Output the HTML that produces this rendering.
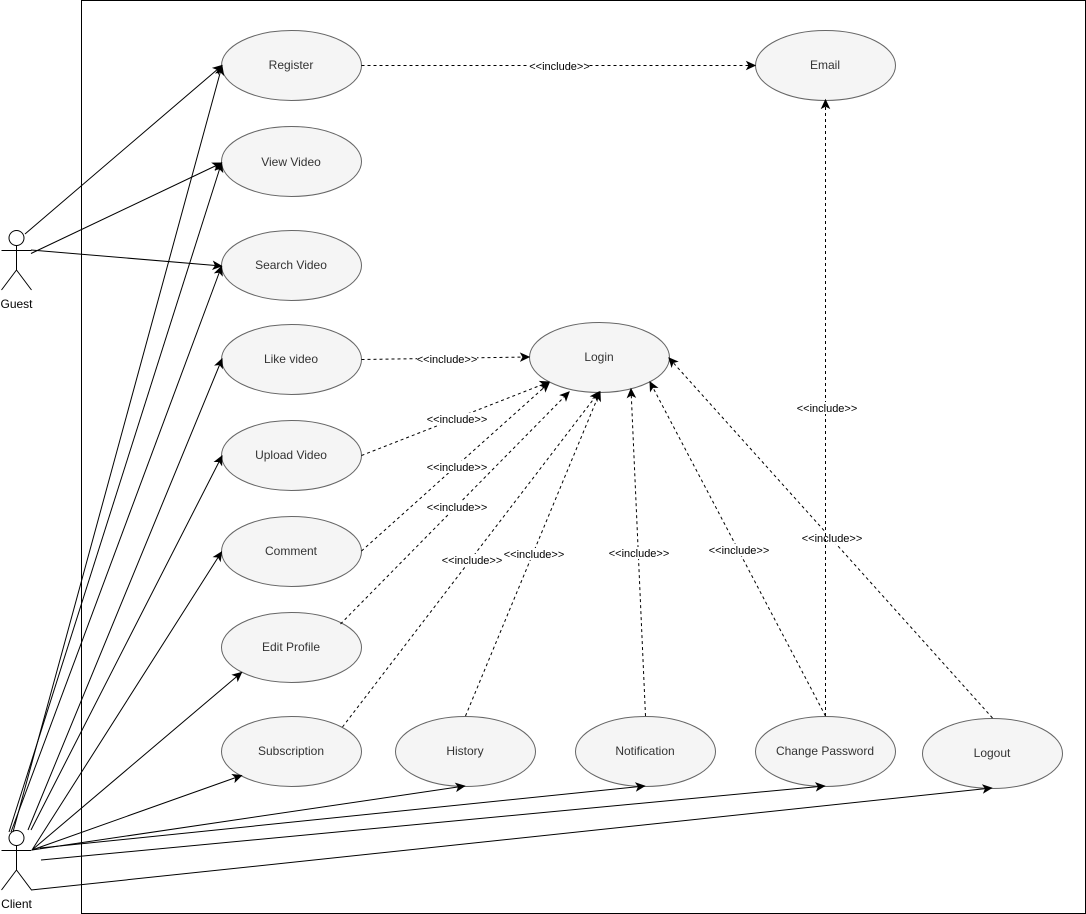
<!DOCTYPE html>
<html><head><meta charset="utf-8"><style>
html,body{margin:0;padding:0;background:#fff}
svg{display:block}
.u{fill:#f5f5f5;stroke:#666;stroke-width:1}
.t{font:12px "Liberation Sans",sans-serif;fill:#333;text-anchor:middle}
.a{font:12px "Liberation Sans",sans-serif;fill:#000;text-anchor:middle}
.l{font:11px "Liberation Sans",sans-serif;fill:#000;text-anchor:middle}
.s{stroke:#000;stroke-width:1;fill:none;marker-end:url(#m)}
.d{stroke:#000;stroke-width:1;fill:none;stroke-dasharray:3 3;marker-end:url(#m)}
.p{stroke:#000;stroke-width:1;fill:#fff}
.b{fill:#fff}
</style></head><body>
<svg width="1086" height="914" viewBox="0 0 1086 914" xmlns="http://www.w3.org/2000/svg">
<defs><marker id="m" markerUnits="userSpaceOnUse" markerWidth="12" markerHeight="12" viewBox="0 0 12 12" refX="10" refY="6" orient="auto"><path d="M10,6 L2,2.3 L4,6 L2,9.7 Z" fill="#000" stroke="#000" stroke-width="1"/></marker></defs>
<rect x="81.5" y="0.5" width="1004" height="913" fill="#fff" stroke="#000"/>

<ellipse class="u" cx="291.5" cy="65.5" rx="70" ry="35"/>
<ellipse class="u" cx="291.5" cy="161.5" rx="70" ry="35"/>
<ellipse class="u" cx="291.5" cy="265.5" rx="70" ry="35"/>
<ellipse class="u" cx="291.5" cy="359.5" rx="70" ry="35"/>
<ellipse class="u" cx="291.5" cy="455.5" rx="70" ry="35"/>
<ellipse class="u" cx="291.5" cy="551.5" rx="70" ry="35"/>
<ellipse class="u" cx="291.5" cy="647.5" rx="70" ry="35"/>
<ellipse class="u" cx="291.5" cy="751.5" rx="70" ry="35"/>
<ellipse class="u" cx="465.5" cy="751.5" rx="70" ry="35"/>
<ellipse class="u" cx="645.5" cy="751.5" rx="70" ry="35"/>
<ellipse class="u" cx="825.5" cy="751.5" rx="70" ry="35"/>
<ellipse class="u" cx="992.5" cy="753.5" rx="70" ry="35"/>
<ellipse class="u" cx="825.5" cy="65.5" rx="70" ry="35"/>
<ellipse class="u" cx="599.5" cy="357.5" rx="70" ry="35"/>

<text class="t" x="291" y="69">Register</text>
<text class="t" x="291" y="166">View Video</text>
<text class="t" x="291" y="269">Search Video</text>
<text class="t" x="291" y="363">Like video</text>
<text class="t" x="291" y="459">Upload Video</text>
<text class="t" x="291" y="555">Comment</text>
<text class="t" x="291" y="651">Edit Profile</text>
<text class="t" x="291" y="755">Subscription</text>
<text class="t" x="465" y="755">History</text>
<text class="t" x="645" y="755">Notification</text>
<text class="t" x="825" y="755">Change Password</text>
<text class="t" x="992" y="757">Logout</text>
<text class="t" x="825" y="69">Email</text>
<text class="t" x="599" y="361">Login</text>

<!-- Guest -->
<circle class="p" cx="16.5" cy="238" r="7.5"/>
<path d="M16.5 245.5V270M1.500 250.500H31.500M16.500 270L1.500 290M16.500 270L31.500 290" stroke="#000" fill="none"/>
<text class="a" x="16.5" y="308">Guest</text>
<!-- Client -->
<circle class="p" cx="16.5" cy="838" r="7.500"/>
<path d="M16.500 845.500V870M1.500 850.500H31.500M16.500 870L1.500 890M16.500 870L31.500 890" stroke="#000" fill="none"/>
<text class="a" x="16.5" y="908">Client</text>

<!-- Guest edges -->
<line class="s" x1="25" y1="234" x2="222" y2="65.500"/>
<line class="s" x1="31" y1="253.500" x2="221.500" y2="163"/>
<line class="s" x1="31" y1="250" x2="221.500" y2="266"/>
<!-- Client edges -->
<line class="s" x1="13" y1="832" x2="222" y2="66"/>
<line class="s" x1="9" y1="832" x2="221.500" y2="163"/>
<line class="s" x1="11" y1="832" x2="221.500" y2="266.500"/>
<line class="s" x1="28" y1="830" x2="222" y2="359"/>
<line class="s" x1="31" y1="830" x2="222" y2="456"/>
<line class="s" x1="32" y1="850" x2="221.500" y2="552"/>
<line class="s" x1="32" y1="850" x2="241.500" y2="672.500"/>
<line class="s" x1="32" y1="850" x2="241.500" y2="775.500"/>
<line class="s" x1="32" y1="850" x2="464.500" y2="786"/>
<line class="s" x1="40" y1="848" x2="644.500" y2="786"/>
<line class="s" x1="41" y1="860" x2="824.500" y2="786"/>
<line class="s" x1="31" y1="890" x2="991.500" y2="788"/>

<!-- Include edges -->
<line class="d" x1="361.500" y1="65.500" x2="755" y2="65.500"/>
<rect class="b" x="529" y="60" width="60" height="12"/><text class="l" x="559.500" y="70">&lt;&lt;include&gt;&gt;</text>
<line class="d" x1="361.500" y1="359.500" x2="529" y2="357"/>
<rect class="b" x="417" y="353" width="60" height="12"/><text class="l" x="447" y="363">&lt;&lt;include&gt;&gt;</text>
<line class="d" x1="361.500" y1="455.500" x2="549" y2="382"/>
<rect class="b" x="427" y="413" width="60" height="12"/><text class="l" x="457" y="423">&lt;&lt;include&gt;&gt;</text>
<line class="d" x1="361.500" y1="551" x2="549" y2="383"/>
<rect class="b" x="427" y="461" width="60" height="12"/><text class="l" x="457" y="471">&lt;&lt;include&gt;&gt;</text>
<line class="d" x1="340.500" y1="624" x2="569" y2="392"/>
<rect class="b" x="427" y="501" width="60" height="12"/><text class="l" x="457" y="511">&lt;&lt;include&gt;&gt;</text>
<line class="d" x1="342.500" y1="727" x2="599" y2="392"/>
<rect class="b" x="442" y="554" width="60" height="12"/><text class="l" x="472" y="564">&lt;&lt;include&gt;&gt;</text>
<line class="d" x1="465.500" y1="716" x2="600" y2="392"/>
<rect class="b" x="504" y="548" width="60" height="12"/><text class="l" x="534" y="558">&lt;&lt;include&gt;&gt;</text>
<line class="d" x1="645.500" y1="716" x2="631" y2="389"/>
<rect class="b" x="609" y="547" width="60" height="12"/><text class="l" x="639" y="557">&lt;&lt;include&gt;&gt;</text>
<line class="d" x1="825.500" y1="716" x2="650" y2="382"/>
<rect class="b" x="709" y="544" width="60" height="12"/><text class="l" x="739" y="554">&lt;&lt;include&gt;&gt;</text>
<line class="d" x1="992.500" y1="718" x2="669" y2="358"/>
<rect class="b" x="802" y="532" width="60" height="12"/><text class="l" x="832" y="542">&lt;&lt;include&gt;&gt;</text>
<line class="d" x1="825.500" y1="716" x2="825.500" y2="100"/>
<rect class="b" x="797" y="402" width="60" height="12"/><text class="l" x="827" y="412">&lt;&lt;include&gt;&gt;</text>
</svg>
</body></html>
